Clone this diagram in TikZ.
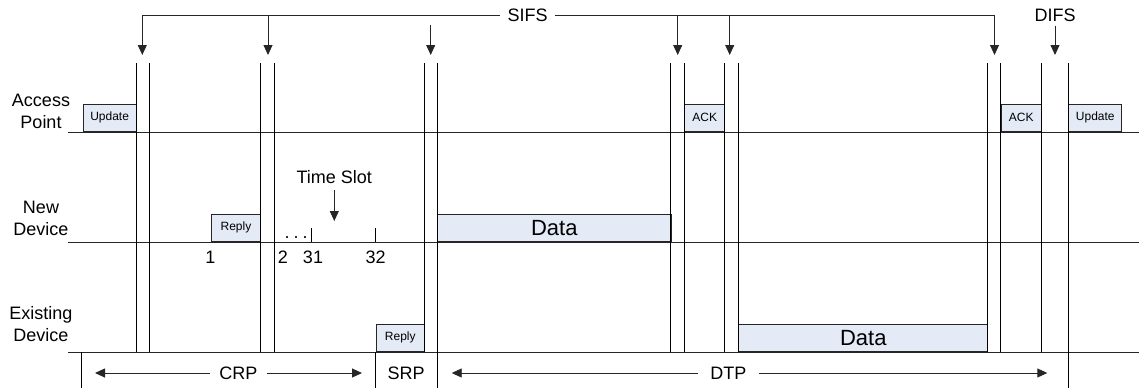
\documentclass[tikz,border=0pt]{standalone}
\usepackage{fontspec}
\setmainfont{Liberation Sans}
\usetikzlibrary{arrows.meta}
\definecolor{boxfill}{RGB}{228,234,246}
\begin{document}
\begin{tikzpicture}[x=1pt,y=-1pt,
  ln/.style={line width=0.9pt, draw=black!85},
  arr/.style={ln,-{Triangle[width=9pt,length=10pt]}},
  pkt/.style={draw=black!85, line width=0.9pt, fill=boxfill, inner sep=0pt, anchor=south west, minimum height=27.5pt},
  bigf/.style={font=\fontsize{18}{22}\selectfont},
  smallf/.style={font=\fontsize{12}{14}\selectfont},
  dataf/.style={font=\fontsize{22}{26}\selectfont},
  lab/.style={bigf, align=center, inner sep=0pt},
  gaplab/.style={bigf, fill=white, inner ysep=2pt},
]
\useasboundingbox (0,0) rectangle (1139,388);

% packets
\node[pkt, smallf, minimum width=53pt] (upd1) at (82.7,132) {Update};
\node[pkt, smallf, minimum width=40pt] (ack1) at (684.3,132) {ACK};
\node[pkt, smallf, minimum width=40.3pt] (ack2) at (1000.7,132) {ACK};
\node[pkt, smallf, minimum width=53pt] (upd2) at (1068.3,132) {Update};
\node[pkt, smallf, minimum width=49pt] (rep1) at (211,242) {Reply};
\node[pkt, dataf, minimum width=233.7pt] (dat1) at (437,242) {Data};
\node[pkt, smallf, minimum width=48.3pt] (rep2) at (375.7,352) {Reply};
\node[pkt, dataf, minimum width=249pt] (dat2) at (738.3,352) {Data};

% station lines
\draw[ln] (68,132) -- (1139,132);
\draw[ln] (68,242) -- (1139,242);
\draw[ln] (68,352) -- (1139,352);

% vertical guides
\foreach \x in {136,149,260,274,424,670.7,684.3,724.3,738.3,987.3,1000.7,1041}
  \draw[ln, draw=black] (\x,63.3) -- (\x,352);
\draw[ln, draw=black] (437,63.3) -- (437,388);
\draw[ln, draw=black] (1068.3,63.3) -- (1068.3,388);
\draw[ln, draw=black] (81.7,352) -- (81.7,388);
\draw[ln, draw=black] (375.7,352) -- (375.7,388);

% station labels
\node[lab] (ap) at (41,111) {Access\\Point};
\node[lab] (nd) at (41,218) {New\\Device};
\node[lab] (ed) at (41,324) {Existing\\Device};

% SIFS bracket
\node[gaplab, inner xsep=7pt] (sifs) at (527.5,15) {SIFS};
\coordinate (bl) at (142.3,15);
\coordinate (br) at (994.5,15);
\draw[ln] (bl) -- (sifs.west);
\draw[ln] (sifs.east) -- (br);
\coordinate (a1) at (142.3,55);
\coordinate (a2t) at (268,15);
\coordinate (a2) at (268,55);
\coordinate (a3t) at (430.7,25);
\coordinate (a3) at (430.7,55);
\coordinate (a4t) at (677.7,15);
\coordinate (a4) at (677.7,55);
\coordinate (a5t) at (729.7,15);
\coordinate (a5) at (729.7,55);
\coordinate (a6) at (994.5,55);
\draw[arr] (bl) -- (a1);
\draw[arr] (a2t) -- (a2);
\draw[arr] (a3t) -- (a3);
\draw[arr] (a4t) -- (a4);
\draw[arr] (a5t) -- (a5);
\draw[arr] (br) -- (a6);

% DIFS
\node[bigf, inner sep=0pt] (difs) at (1055,15) {DIFS};
\coordinate (d1) at (1055,55);
\draw[arr] (difs.south) ++(0,4) -- (d1);

% time slot
\node[bigf, inner sep=0pt] (ts) at (334.3,177) {Time Slot};
\coordinate (tsa) at (334.3,221);
\draw[arr] (334.3,190) -- (tsa);

% ticks and numbers
\coordinate (t31) at (311,228.3);
\coordinate (t31b) at (311,242);
\coordinate (t32) at (375.7,228.3);
\coordinate (t32b) at (375.7,242);
\draw[ln, draw=black] (t31) -- (t31b);
\draw[ln, draw=black] (t32) -- (t32b);
\node[bigf, inner sep=0pt, anchor=base] (dots) at (296,238) {.\hspace{4pt}.\hspace{4pt}.};
\node[bigf, inner sep=0pt, anchor=base] (n1) at (210.3,263) {1};
\node[bigf, inner sep=0pt, anchor=base] (n2) at (283,263) {2};
\node[bigf, inner sep=0pt, anchor=base] (n31) at (313,263) {31};
\node[bigf, inner sep=0pt, anchor=base] (n32) at (375.7,263) {32};

% periods
\node[gaplab, inner xsep=9pt] (crp) at (238.3,373) {CRP};
\coordinate (crpl) at (95,373);
\coordinate (crpr) at (362,373);
\draw[arr] (crp.west) -- (crpl);
\draw[arr] (crp.east) -- (crpr);
\node[bigf, inner sep=0pt] (srp) at (406,373) {SRP};
\node[gaplab, inner xsep=12pt] (dtp) at (728.3,373) {DTP};
\coordinate (dtpl) at (451.7,373);
\coordinate (dtpr) at (1047.3,373);
\draw[arr] (dtp.west) -- (dtpl);
\draw[arr] (dtp.east) -- (dtpr);
\end{tikzpicture}
\end{document}
